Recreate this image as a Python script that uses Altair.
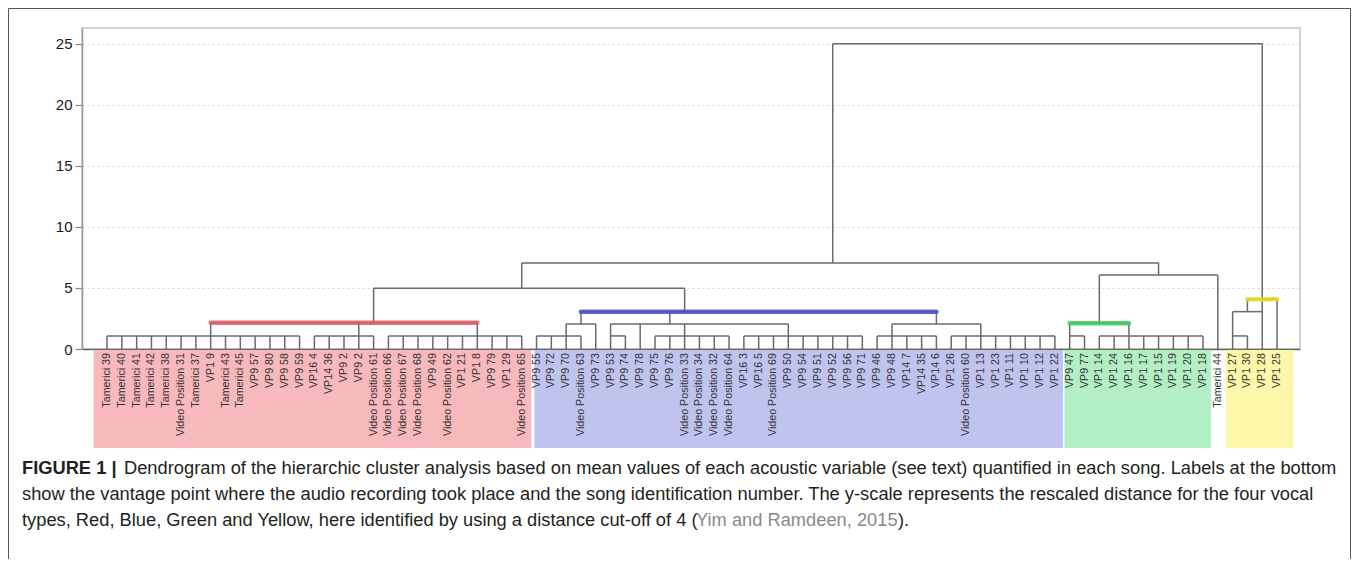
import altair as alt
import pandas as pd

# ---------------- data ----------------
leaf_labels = [
    "Tamerici 39", "Tamerici 40", "Tamerici 41", "Tamerici 42", "Tamerici 38",
    "Video Position 31", "Tamerici 37", "VP1 9", "Tamerici 43", "Tamerici 45",
    "VP9 57", "VP9 80", "VP9 58", "VP9 59", "VP16 4", "VP14 36", "VP9 2", "VP9 2",
    "Video Position 61", "Video Position 66", "Video Position 67", "Video Position 68",
    "VP9 49", "Video Position 62", "VP1 21", "VP1 8", "VP9 79", "VP1 29",
    "Video Position 65",
    "VP9 55", "VP9 72", "VP9 70", "Video Position 63", "VP9 73", "VP9 53", "VP9 74",
    "VP9 78", "VP9 75", "VP9 76", "Video Position 33", "Video Position 34",
    "Video Position 32", "Video Position 64", "VP16 3", "VP16 5", "Video Position 69",
    "VP9 50", "VP9 54", "VP9 51", "VP9 52", "VP9 56", "VP9 71", "VP9 46", "VP9 48",
    "VP14 7", "VP14 35", "VP14 6", "VP1 26", "Video Position 60", "VP1 13", "VP1 23",
    "VP1 11", "VP1 10", "VP1 12", "VP1 22",
    "VP9 47", "VP9 77", "VP1 14", "VP1 24", "VP1 16", "VP1 17", "VP1 15", "VP1 19",
    "VP1 20", "VP1 18",
    "Tamerici 44",
    "VP1 27", "VP1 30", "VP1 28", "VP1 25",
]

# height of each leaf's own vertical line (rescaled distance)
leaf_top = [
    # red (29 leaves)
    1.07, 1.07, 1.07, 1.07, 1.07, 1.07, 1.07, 1.07, 1.07, 1.07,
    1.07, 1.07, 1.07, 1.07, 1.07, 1.07, 1.07, 1.07, 1.07, 1.07,
    1.07, 1.07, 1.07, 1.07, 1.07, 1.07, 1.07, 1.07, 1.07,
    # blue (36 leaves)
    1.07, 1.07, 1.07, 1.07, 2.05, 1.07, 1.07, 2.05, 1.07, 1.07,
    1.07, 1.07, 1.07, 1.07, 1.07, 1.07, 1.07, 1.07, 1.07, 1.07,
    1.07, 1.07, 1.07, 1.07, 1.07, 1.07, 1.07, 1.07, 1.07, 1.07,
    1.07, 1.07, 1.07, 1.07, 1.07, 1.07,
    # green (10 leaves)
    1.07, 1.07, 1.07, 1.07, 1.07, 1.07, 1.07, 1.07, 1.07, 1.07,
    # Tamerici 44
    6.07,
    # yellow (4 leaves)
    1.07, 1.07, 3.06, 4.07,
]

# horizontal joins: from leaf position, to leaf position, at height
join_from = [0, 14, 19, 29, 34, 37, 43, 52, 57, 65, 67, 76,
             7, 31, 34, 53, 32, 18, 65, 67, 28, 49, 76, 77]
join_to = [13, 18, 28, 32, 35, 42, 51, 56, 64, 66, 74, 77,
           25, 33, 46, 59, 56, 39, 69, 75, 71, 78, 78, 79]
join_h = [1.07, 1.07, 1.07, 1.07, 1.07, 1.07, 1.07, 1.07, 1.07, 1.07, 1.07, 1.07,
          2.15, 2.05, 2.05, 2.05, 3.06, 4.97, 2.10, 6.07, 7.05, 25.0, 3.06, 4.07]

# vertical links of clusters: position, lower height, upper height
link_pos = [7, 17, 25, 18, 31, 32, 34, 39, 46, 38, 53, 59, 56, 39, 28,
            65, 69, 67, 71, 49, 76, 77, 78]
link_lo = [1.07, 1.07, 1.07, 2.15, 1.07, 2.05, 1.07, 1.07, 1.07, 2.05, 1.07, 1.07,
           2.05, 3.06, 4.97, 1.07, 1.07, 2.10, 6.07, 7.05, 1.07, 3.06, 3.06]
link_hi = [2.15, 2.15, 2.15, 4.97, 2.05, 3.06, 2.05, 2.05, 2.05, 3.06, 2.05, 2.05,
           3.06, 4.97, 7.05, 2.10, 2.10, 6.07, 7.05, 25.0, 3.06, 4.07, 25.0]

# vocal type cut-off lines
type_names = ["Red", "Blue", "Green", "Yellow"]
type_from = [7, 32, 65, 77]
type_to = [25, 56, 69, 79]
type_h = [2.15, 3.06, 2.10, 4.07]
type_line_colors = ["#e05a66", "#4b4bc8", "#3ecb62", "#e6dc2e"]

# label background bands (leaf-position extents)
band_from = [-0.9, 28.85, 64.65, 75.55]
band_to = [28.65, 64.55, 74.55, 80.1]
band_colors = ["#f7b9bb", "#c1c3ef", "#b3efc5", "#fdf7a9"]

y_ticks = [0, 5, 10, 15, 20, 25]

caption_bold = "FIGURE 1 |"
caption_l1 = ("Dendrogram of the hierarchic cluster analysis based on mean values of each "
              "acoustic variable (see text) quantified in each song. Labels at the bottom")
caption_l2 = ("show the vantage point where the audio recording took place and the song "
              "identification number. The y-scale represents the rescaled distance for the four vocal")
caption_l3a = "types, Red, Blue, Green and Yellow, here identified by using a distance cut-off of 4 ("
caption_ref = "Yim and Ramdeen, 2015"
caption_l3b = ")."

# ---------------- tables ----------------
segs = []
for i, t in enumerate(leaf_top):
    segs.append({"x": i, "x2": i, "y": 0.0, "y2": t})
for a, b, h in zip(join_from, join_to, join_h):
    segs.append({"x": a, "x2": b, "y": h, "y2": h})
for p, lo, hi in zip(link_pos, link_lo, link_hi):
    segs.append({"x": p, "x2": p, "y": lo, "y2": hi})
seg_df = pd.DataFrame(segs)

leaf_df = pd.DataFrame({"x": list(range(len(leaf_labels))), "label": leaf_labels})
type_df = pd.DataFrame({"name": type_names, "x": type_from, "x2": type_to, "y": type_h})
band_df = pd.DataFrame({"name": type_names, "x": band_from, "x2": band_to})

W, H = 1218, 321
xscale = alt.Scale(domain=[-1.69, 80.55], zero=False, nice=False)
yscale = alt.Scale(domain=[0, 26.3], zero=False, nice=False)
FONT = "Liberation Sans"

x_axis = alt.Axis(labels=False, ticks=False, grid=False, domainColor="#6a6a6a",
                  domainWidth=1.5, title=None)
y_axis = alt.Axis(values=y_ticks, grid=True, gridDash=[2, 3], gridColor="#d6d6d6",
                  tickSize=7, tickColor="#888888", tickWidth=1.2,
                  domainColor="#9a9a9a", domainWidth=1.5,
                  labelFont=FONT, labelFontSize=15, labelColor="#1a1a1a",
                  labelPadding=3, title=None)

bands = alt.Chart(band_df).mark_rect().encode(
    x=alt.X("x:Q", scale=xscale, axis=x_axis),
    x2="x2:Q",
    y=alt.value(H + 1),
    y2=alt.value(H + 99),
    color=alt.Color("name:N", scale=alt.Scale(domain=type_names, range=band_colors), legend=None),
)

tree = alt.Chart(seg_df).mark_rule(color="#6a6a6a", strokeWidth=1.5).encode(
    x=alt.X("x:Q", scale=xscale, axis=x_axis),
    x2="x2:Q",
    y=alt.Y("y:Q", scale=yscale, axis=y_axis),
    y2="y2:Q",
)

type_lines = alt.Chart(type_df).mark_rule(strokeWidth=4.5, strokeCap="round", opacity=0.85).encode(
    x=alt.X("x:Q", scale=xscale, axis=x_axis),
    x2="x2:Q",
    y=alt.Y("y:Q", scale=yscale, axis=y_axis),
    color=alt.Color("name:N", scale=alt.Scale(domain=type_names, range=type_line_colors), legend=None),
)

labels = alt.Chart(leaf_df).mark_text(
    angle=270, align="right", baseline="middle", font=FONT, fontSize=10.7, color="#333333"
).encode(
    x=alt.X("x:Q", scale=xscale, axis=x_axis),
    y=alt.value(H + 4),
    text="label:N",
)

one = pd.DataFrame({"k": [0]})
CAP_SIZE = 18.3

def cap(text, x, y, bold=False, color="#231f20"):
    return alt.Chart(pd.DataFrame({"t": [text]})).mark_text(
        align="left", baseline="alphabetic", font=FONT, fontSize=CAP_SIZE,
        fontWeight="bold" if bold else "normal", color=color
    ).encode(x=alt.value(x), y=alt.value(y), text="t:N")

captions = [
    cap(caption_bold, -60, 446, bold=True),
    cap(caption_l1, 42, 446),
    cap(caption_l2, -60, 472),
    cap(caption_l3a, -60, 498),
    cap(caption_ref, 614, 498, color="#8a8a8a"),
    cap(caption_l3b, 816, 498),
]

frame = [
    alt.Chart(one).mark_rule(color="#555555", strokeWidth=1).encode(
        x=alt.value(-73.5), y=alt.value(-19.5), y2=alt.value(531)),
    alt.Chart(one).mark_rule(color="#555555", strokeWidth=1).encode(
        x=alt.value(-73.5), x2=alt.value(1268.5), y=alt.value(-19.5)),
    alt.Chart(one).mark_rule(color="#555555", strokeWidth=1).encode(
        x=alt.value(1268.5), y=alt.value(-19.5), y2=alt.value(531)),
]

chart = alt.layer(bands, tree, type_lines, labels, *captions, *frame).properties(
    width=W, height=H,
    autosize=alt.AutoSizeParams(type="none"),
    padding={"left": 74, "top": 20, "right": 52, "bottom": 210},
).configure_view(stroke="#c4c4c4", strokeWidth=1.5).resolve_scale(color="independent")

chart.save("out.html", embed_options={"renderer": "svg", "actions": False})
